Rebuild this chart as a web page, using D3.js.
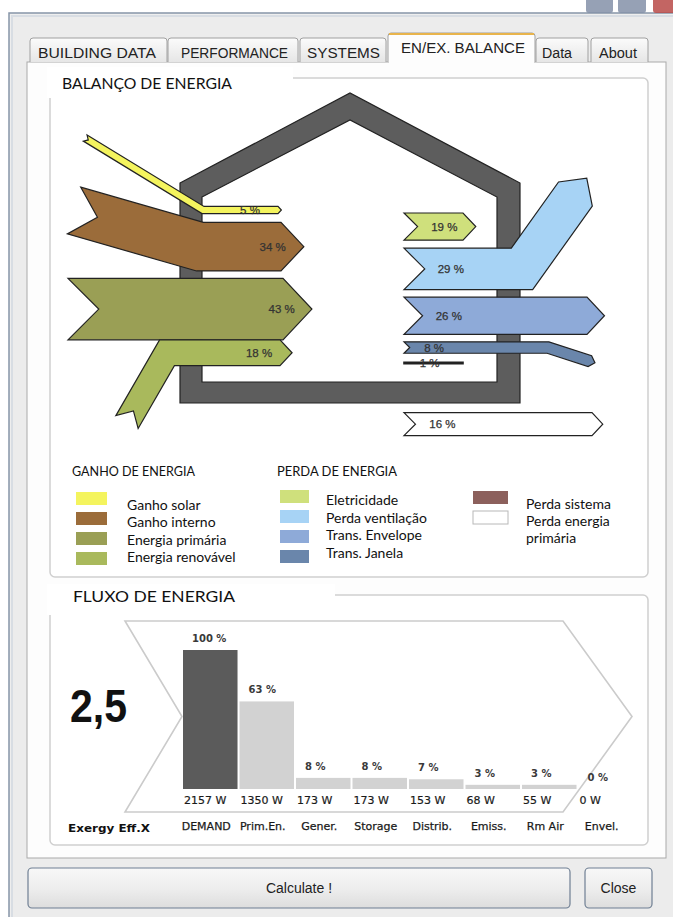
<!DOCTYPE html>
<html><head><meta charset="utf-8">
<script src="https://cdn.jsdelivr.net/npm/d3@7"></script>
<style>body{margin:0;background:#fff}svg{display:block}</style>
</head><body><svg id="c" width="673" height="917"></svg>
<script>
// ---------------- DATA ----------------
const tabLabels = ["BUILDING DATA","PERFORMANCE","SYSTEMS","EN/EX. BALANCE","Data","About"];
const gainNames = ["Ganho solar","Ganho interno","Energia primária","Energia renovável"];
const gainValues = [5,34,43,18];
const lossNames = ["Eletricidade","Perda ventilação","Trans. Envelope","Trans. Janela","Perda sistema","Perda energia primária"];
const lossValues = [19,29,26,8,1,16];
const flowCategories = ["DEMAND","Prim.En.","Gener.","Storage","Distrib.","Emiss.","Rm Air","Envel."];
const flowPercent = [100,63,8,8,7,3,3,0];
const flowWatts = [2157,1350,173,173,153,68,55,0];
const exergyEfficiency = "2,5";

// ---------------- STYLE ----------------
const gainColors = ["#f4f45e","#9b6c3a","#9a9f55","#a9b95c"];
const lossColors = ["#cfe07c","#a7d3f5","#8eaad8","#6a86ab","#8c605c","#ffffff"];
const svg = d3.select("#c");
const UI = "'Liberation Sans', Arial, sans-serif";
const CAL = "Lato, 'Open Sans', sans-serif";
const DV = "'DejaVu Sans', sans-serif";

// ---------------- WINDOW CHROME ----------------
svg.append("rect").attr("x",0).attr("y",0).attr("width",673).attr("height",917).attr("fill","#ffffff");
const defs = svg.append("defs");
const gTab = defs.append("linearGradient").attr("id","gtab").attr("x1",0).attr("y1",0).attr("x2",0).attr("y2",1);
gTab.append("stop").attr("offset","0").attr("stop-color","#fbfbfb");
gTab.append("stop").attr("offset","1").attr("stop-color","#e6e6e6");
const gBtn = defs.append("linearGradient").attr("id","gbtn").attr("x1",0).attr("y1",0).attr("x2",0).attr("y2",1);
gBtn.append("stop").attr("offset","0").attr("stop-color","#f8f8f8");
gBtn.append("stop").attr("offset","0.5").attr("stop-color","#eeeeee");
gBtn.append("stop").attr("offset","1").attr("stop-color","#dddddd");

svg.append("rect").attr("x",9).attr("y",13).attr("width",672).attr("height",920)
  .attr("fill","#eeeeee").attr("stroke","#8795a8").attr("stroke-width",1.5);
svg.append("rect").attr("x",12).attr("y",16).attr("width",668).attr("height",910)
  .attr("fill","#ececec").attr("stroke","#d8dde3").attr("stroke-width",2);
[[586,27,"#8490a8"],[618,28,"#8490a8"],[653,22,"#b84a48"]].forEach(b=>{
  svg.append("rect").attr("x",b[0]).attr("y",-4).attr("width",b[1]).attr("height",17).attr("rx",3)
    .attr("fill",b[2]).attr("opacity",0.85);
});

svg.append("rect").attr("x",27).attr("y",62).attr("width",639).attr("height",796)
  .attr("fill","#fdfdfd").attr("stroke","#a9a9a9");

const tabX = [30,168,300,388,536,591], tabW = [137,130,86,147,52,57];
const tabTextX = [38,181,307,401,542,599], tabTextW = [118,107,73,124,30,38];
tabLabels.forEach((t,i)=>{
  const active = i===3;
  const y = active?33:38;
  svg.append("path")
    .attr("d",`M${tabX[i]},62 L${tabX[i]},${y+3} Q${tabX[i]},${y} ${tabX[i]+3},${y} L${tabX[i]+tabW[i]-3},${y} Q${tabX[i]+tabW[i]},${y} ${tabX[i]+tabW[i]},${y+3} L${tabX[i]+tabW[i]},62`)
    .attr("fill",active?"#fdfdfd":"url(#gtab)").attr("stroke","#a0a0a0");
  if(active){
    svg.append("path").attr("d",`M${tabX[i]+1},${y+1} L${tabX[i]+tabW[i]-1},${y+1}`).attr("stroke","#e8b44c").attr("stroke-width",2);
    svg.append("rect").attr("x",tabX[i]+1).attr("y",60).attr("width",tabW[i]-2).attr("height",4).attr("fill","#fdfdfd");
  }
  svg.append("text").attr("x",tabTextX[i]).attr("y",active?53:58).text(t)
    .attr("font-family",UI).attr("font-size",15.5).attr("fill","#222")
    .attr("textLength",tabTextW[i]).attr("lengthAdjust","spacingAndGlyphs");
});

function groupBox(x,y,w,h,label,lx,lw,ly,ltw){
  svg.append("rect").attr("x",x).attr("y",y).attr("width",w).attr("height",h).attr("rx",5)
    .attr("fill","#ffffff").attr("stroke","#cfcfcf").attr("stroke-width",1.5);
  svg.append("rect").attr("x",x-3).attr("y",y-11).attr("width",lw).attr("height",31).attr("fill","#ffffff");
  svg.append("text").attr("x",lx).attr("y",ly).text(label)
    .attr("font-family",CAL).attr("font-size",16).attr("fill","#111")
    .attr("textLength",ltw).attr("lengthAdjust","spacingAndGlyphs");
}
groupBox(50,78,598,499,"BALANÇO DE ENERGIA",62,246,89,170);
groupBox(50,595,598,250,"FLUXO DE ENERGIA",73,288,602,162);

// ---------------- ENERGY BALANCE (house + arrows) ----------------
const gB = svg.append("g");
const outer = [[180,183],[350,93],[520,183],[520,403],[180,403]];
const inner = [[202,197],[350,120],[497,197],[497,382],[202,382]];
const poly = p => "M"+p.map(q=>q.join(",")).join("L")+"Z";
gB.append("path").attr("d",poly(outer)+poly(inner)).attr("fill-rule","evenodd")
  .attr("fill","#5d5d5d").attr("stroke","#222").attr("stroke-width",1.2);

const wScale = d3.scaleLinear().domain([0,100]).range([0,143]);

function bandPath(pts, t, tip, notch){
  const h=t/2, n=pts.length, dirs=[], norms=[];
  for(let i=0;i<n-1;i++){
    const dx=pts[i+1][0]-pts[i][0], dy=pts[i+1][1]-pts[i][1], L=Math.hypot(dx,dy);
    const d=[dx/L,dy/L]; dirs.push(d); norms.push([d[1],-d[0]]);
  }
  const off=(i,s)=>{
    let nm;
    if(i===0) nm=norms[0]; else if(i===n-1) nm=norms[n-2];
    else{
      const a=norms[i-1], b=norms[i], m=[a[0]+b[0],a[1]+b[1]], ml=Math.hypot(m[0],m[1]);
      const u=[m[0]/ml,m[1]/ml], k=1/(u[0]*b[0]+u[1]*b[1]); nm=[u[0]*k,u[1]*k];
    }
    return [pts[i][0]+s*h*nm[0], pts[i][1]+s*h*nm[1]];
  };
  const top=[],bot=[];
  for(let i=0;i<n;i++){top.push(off(i,1));bot.push(off(i,-1));}
  const dl=dirs[n-2], d0=dirs[0], P=[...top];
  if(tip>0) P.push([pts[n-1][0]+dl[0]*tip, pts[n-1][1]+dl[1]*tip]);
  P.push(...bot.reverse());
  if(notch>0) P.push([pts[0][0]+d0[0]*notch, pts[0][1]+d0[1]*notch]);
  return poly(P);
}
const rad = a => a*Math.PI/180;

const gainLayout = [
  {start:203, end:278, tailAng:-148.6, tailLen:138, gap:0},
  {start:200, end:281, tailAng:-164,   tailLen:131, gap:8.8},
  {start:68,  end:283, tailAng:null,   tailLen:0,   gap:7.4},
  {start:167, end:280, tailAng:120,    tailLen:80,  gap:0}
];
let yTop = 206.4;
const gainArrows = gainValues.map((v,i)=>{
  const L=gainLayout[i], t=wScale(v);
  yTop += L.gap; const c=yTop+t/2; yTop += t;
  let pts=[[L.start,c],[L.end,c]];
  if(L.tailAng!==null) pts.unshift([L.start+Math.cos(rad(L.tailAng))*L.tailLen, c+Math.sin(rad(L.tailAng))*L.tailLen]);
  return {v,t,c,pts,color:gainColors[i],end:L.end};
});
const lossLayout = [
  {start:404, end:463, headAng:null, headLen:0, gap:0, tip:true},
  {start:404, end:522, headAng:-54.5, headLen:92, gap:8, tip:true},
  {start:404, end:587, headAng:null, headLen:0, gap:7.5, tip:true},
  {start:404, end:548, headAng:18, headLen:44, gap:7.5, tip:true},
  {start:404, end:463, headAng:null, headLen:0, gap:9, tip:false},
  {start:404, end:592, headAng:null, headLen:0, gap:49, tip:true}
];
yTop = 213;
const lossArrows = lossValues.map((v,i)=>{
  const L=lossLayout[i], t=wScale(v);
  yTop += L.gap; const c=yTop+t/2; yTop += t;
  let pts=[[L.start,c],[L.end,c]];
  if(L.headAng!==null) pts.push([L.end+Math.cos(rad(L.headAng))*L.headLen, c+Math.sin(rad(L.headAng))*L.headLen]);
  return {v,t,c,pts,color:lossColors[i],tip:L.tip,start:L.start};
});

gB.selectAll("path.gain").data(gainArrows).join("path").attr("class","gain")
  .attr("d",d=>bandPath(d.pts,d.t,d.t*0.47,d.t*0.5))
  .attr("fill",d=>d.color).attr("stroke","#222").attr("stroke-width",1.2).attr("stroke-linejoin","miter");
gB.selectAll("text.gain").data(gainArrows).join("text").attr("class","gain")
  .attr("x",d=>d.end-22+0.55*d.t).attr("y",d=>d.c+4)
  .attr("text-anchor","end")
  .attr("font-family",UI).attr("font-size",11.5).attr("fill","#333").attr("stroke","#333").attr("stroke-width",0.25)
  .text(d=>d.v+" %");

gB.selectAll("path.loss").data(lossArrows).join("path").attr("class","loss")
  .attr("d",d=>bandPath(d.pts,Math.max(d.t,1.6),d.tip?d.t*0.47:0,d.tip?d.t*0.5:0))
  .attr("fill",d=>d.color).attr("stroke","#222").attr("stroke-width",d=>d.t<3?1.6:1.2);
gB.selectAll("text.loss").data(lossArrows).join("text").attr("class","loss")
  .attr("x",d=>d.start+0.45*d.t+15).attr("y",d=>d.c+4)
  .attr("font-family",UI).attr("font-size",11.5).attr("fill","#333").attr("stroke","#333").attr("stroke-width",0.25)
  .text(d=>d.v+" %");

// ---------------- LEGEND ----------------
const gL = svg.append("g").attr("font-family",CAL).attr("fill","#111");
gL.append("text").attr("x",72).attr("y",476).attr("font-size",13).text("GANHO DE ENERGIA")
  .attr("textLength",123).attr("lengthAdjust","spacingAndGlyphs");
gL.append("text").attr("x",277).attr("y",476).attr("font-size",13).text("PERDA DE ENERGIA")
  .attr("textLength",120).attr("lengthAdjust","spacingAndGlyphs");
gainNames.forEach((n,i)=>{
  gL.append("rect").attr("x",76).attr("y",492+i*20).attr("width",31).attr("height",13).attr("fill",gainColors[i]);
  gL.append("text").attr("x",127).attr("y",510+i*17.4).attr("font-size",14).text(n);
});
lossNames.slice(0,4).forEach((n,i)=>{
  gL.append("rect").attr("x",280).attr("y",490+i*20).attr("width",29).attr("height",13).attr("fill",lossColors[i]);
  gL.append("text").attr("x",326).attr("y",505+i*17.6).attr("font-size",14).text(n);
});
[4,5].forEach((k,j)=>{
  gL.append("rect").attr("x",473).attr("y",491+j*20).attr("width",35).attr("height",13)
    .attr("fill",lossColors[k]).attr("stroke",k===5?"#b8b8b8":"none");
});
gL.append("text").attr("x",526).attr("y",509).attr("font-size",14).text(lossNames[4]);
const lw = lossNames[5].split(" ");
gL.append("text").attr("x",526).attr("y",526).attr("font-size",14).text(lw.slice(0,2).join(" "));
gL.append("text").attr("x",526).attr("y",543).attr("font-size",14).text(lw.slice(2).join(" "));

// ---------------- ENERGY FLOW (bar chart) ----------------
const gF = svg.append("g");
const chev = {x0:125, x1:563, tipX:632, notchX:182, y0:621, y1:812};
const cm = (chev.y0+chev.y1)/2;
gF.append("path").attr("d",poly([[chev.x0,chev.y0],[chev.x1,chev.y0],[chev.tipX,cm],[chev.x1,chev.y1],[chev.x0,chev.y1],[chev.notchX,cm]]))
  .attr("fill","#ffffff").attr("stroke","#cbcbcb").attr("stroke-width",1.6);

const x = d3.scaleBand().domain(flowCategories).range([183,633]).paddingInner(0.035).paddingOuter(0);
const y = d3.scaleLinear().domain([0,100]).range([789,650]);
const rows = flowCategories.map((c,i)=>({c,p:flowPercent[i],w:flowWatts[i],i}));
gF.selectAll("rect.bar").data(rows).join("rect").attr("class","bar")
  .attr("x",d=>x(d.c)).attr("width",x.bandwidth())
  .attr("y",d=>y(d.p)).attr("height",d=>y(0)-y(d.p))
  .attr("fill",d=>d.i===0?"#5b5b5b":"#d2d2d2");
gF.selectAll("text.pct").data(rows).join("text").attr("class","pct")
  .attr("x",d=>x(d.c)+9).attr("y",d=>y(d.p)-8)
  .attr("font-family",DV).attr("font-size",10).attr("font-weight","bold")
  .attr("fill","#3a3a3a").text(d=>d.p+" %");
gF.selectAll("text.watt").data(rows).join("text").attr("class","watt")
  .attr("x",d=>x(d.c)+1).attr("y",804)
  .attr("font-family",DV).attr("font-size",11)
  .attr("fill","#1a1a1a").attr("stroke","#1a1a1a").attr("stroke-width",0.2).text(d=>d.w+" W");

const ax = gF.append("g").attr("transform","translate(-4,822)").call(d3.axisBottom(x).tickSize(0).tickPadding(0));
ax.select(".domain").remove();
ax.selectAll("text").attr("font-family",DV).attr("font-size",11).attr("fill","#1a1a1a")
  .attr("stroke","#1a1a1a").attr("stroke-width",0.25);

gF.append("text").attr("x",68).attr("y",832).text("Exergy Eff.X")
  .attr("font-family",DV).attr("font-size",11).attr("font-weight","bold").attr("fill","#111")
  .attr("textLength",82).attr("lengthAdjust","spacingAndGlyphs");
gF.append("text").attr("x",70).attr("y",722).text(exergyEfficiency)
  .attr("font-family",UI).attr("font-size",47).attr("font-weight","bold").attr("fill","#111")
  .attr("textLength",57).attr("lengthAdjust","spacingAndGlyphs");

// ---------------- BUTTONS ----------------
[[28,542,"Calculate !",299],[585,67,"Close",618.5]].forEach(b=>{
  svg.append("rect").attr("x",b[0]).attr("y",868).attr("width",b[1]).attr("height",40).attr("rx",4)
    .attr("fill","url(#gbtn)").attr("stroke","#6f7f93").attr("stroke-width",1.2);
  svg.append("text").attr("x",b[3]).attr("y",893).attr("text-anchor","middle").text(b[2])
    .attr("font-family",UI).attr("font-size",14).attr("fill","#222");
});
</script></body></html>
